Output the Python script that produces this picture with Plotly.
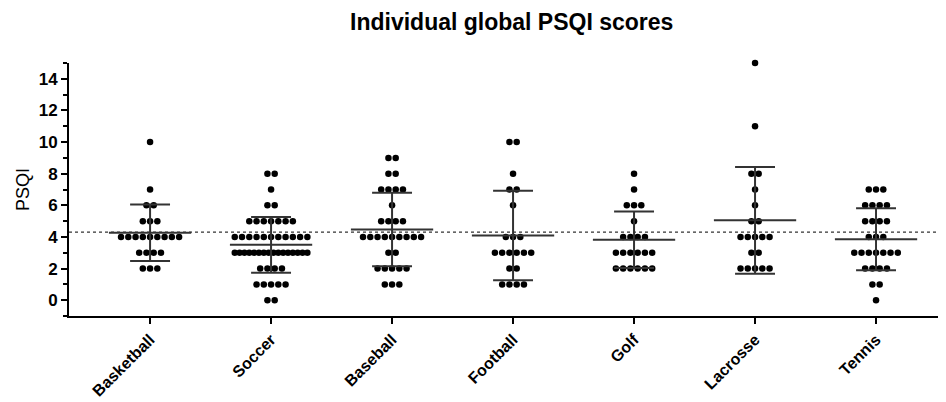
import numpy as np
import plotly.graph_objects as go

categories = ["Basketball", "Soccer", "Baseball", "Football", "Golf", "Lacrosse", "Tennis"]
# score value -> number of athletes with that score
basketball = {10: 1, 7: 1, 6: 2, 5: 3, 4: 9, 3: 4, 2: 3}
soccer = {8: 2, 7: 1, 6: 2, 5: 7, 4: 11, 3: 16, 2: 4, 1: 5, 0: 2}
baseball = {9: 2, 8: 2, 7: 4, 6: 1, 5: 4, 4: 9, 3: 2, 2: 5, 1: 3}
football = {10: 2, 8: 1, 7: 2, 6: 1, 4: 3, 3: 6, 2: 2, 1: 4}
golf = {8: 1, 7: 1, 6: 3, 5: 1, 4: 4, 3: 6, 2: 6}
lacrosse = {15: 1, 11: 1, 8: 2, 7: 1, 6: 1, 5: 2, 4: 5, 3: 2, 2: 5}
tennis = {7: 3, 6: 4, 5: 4, 4: 3, 3: 7, 2: 4, 1: 2, 0: 1}
reference_line = 4.3
y_ticks = [0, 2, 4, 6, 8, 10, 12, 14]

groups = [basketball, soccer, baseball, football, golf, lacrosse, tennis]

fig = go.Figure()
dot_step = 0.06
max_dots = 11
mean_half = 0.34
cap_half = 0.165

for i, g in enumerate(groups):
    xs, ys = [], []
    vals = []
    for v, k in g.items():
        step = dot_step if k <= max_dots else dot_step * (max_dots - 1) / (k - 1)
        for j in range(k):
            xs.append(i + (j - (k - 1) / 2) * step)
            ys.append(v)
            vals.append(v)
    fig.add_trace(go.Scatter(x=xs, y=ys, mode="markers", cliponaxis=False,
                             marker=dict(color="black", size=6.5, line=dict(width=0)),
                             showlegend=False, hoverinfo="y"))
    m = float(np.mean(vals))
    sd = float(np.std(vals, ddof=1))
    lx = [i - mean_half, i + mean_half, None,
          i, i, None,
          i - cap_half, i + cap_half, None,
          i - cap_half, i + cap_half]
    ly = [m, m, None,
          m - sd, m + sd, None,
          m - sd, m - sd, None,
          m + sd, m + sd]
    fig.add_trace(go.Scatter(x=lx, y=ly, mode="lines",
                             line=dict(color="#333333", width=2),
                             showlegend=False, hoverinfo="skip"))

fig.add_shape(type="line", xref="paper", yref="y", x0=0, x1=1,
              y0=reference_line, y1=reference_line,
              line=dict(color="#333333", width=1.3, dash="dot"), layer="below")

fig.update_layout(
    width=938, height=394,
    margin=dict(l=61, r=1, t=55, b=86),
    paper_bgcolor="white", plot_bgcolor="white",
    font=dict(family="Liberation Sans, Arial, sans-serif", color="black"),
    title=dict(text="<b>Individual global PSQI scores</b>", x=0.537, xanchor="center",
               y=0.964, yanchor="middle", font=dict(size=23, color="black")),
)
fig.update_xaxes(
    range=[-0.67, 6.57], tickmode="array", tickvals=list(range(len(categories))),
    ticktext=["<b>%s</b>" % c for c in categories], tickangle=-45,
    showline=True, linecolor="black", linewidth=2, ticks="outside", ticklen=6,
    tickwidth=2, tickcolor="black", tickfont=dict(size=16), showgrid=False,
    zeroline=False, automargin=False,
)
fig.update_yaxes(
    range=[-1, 15], tickmode="array", tickvals=y_ticks,
    ticktext=["<b>%d</b>" % t for t in y_ticks],
    showline=True, linecolor="black", linewidth=2, ticks="outside", ticklen=6,
    tickwidth=2, tickcolor="black", tickfont=dict(size=17), showgrid=False,
    zeroline=False, automargin=False,
    minor=dict(tickmode="linear", tick0=0, dtick=1, ticks="outside", ticklen=4,
               tickwidth=1.5, tickcolor="black", showgrid=False),
    title=dict(text="PSQI", font=dict(size=18), standoff=4),
)
fig.write_html("out.html")
